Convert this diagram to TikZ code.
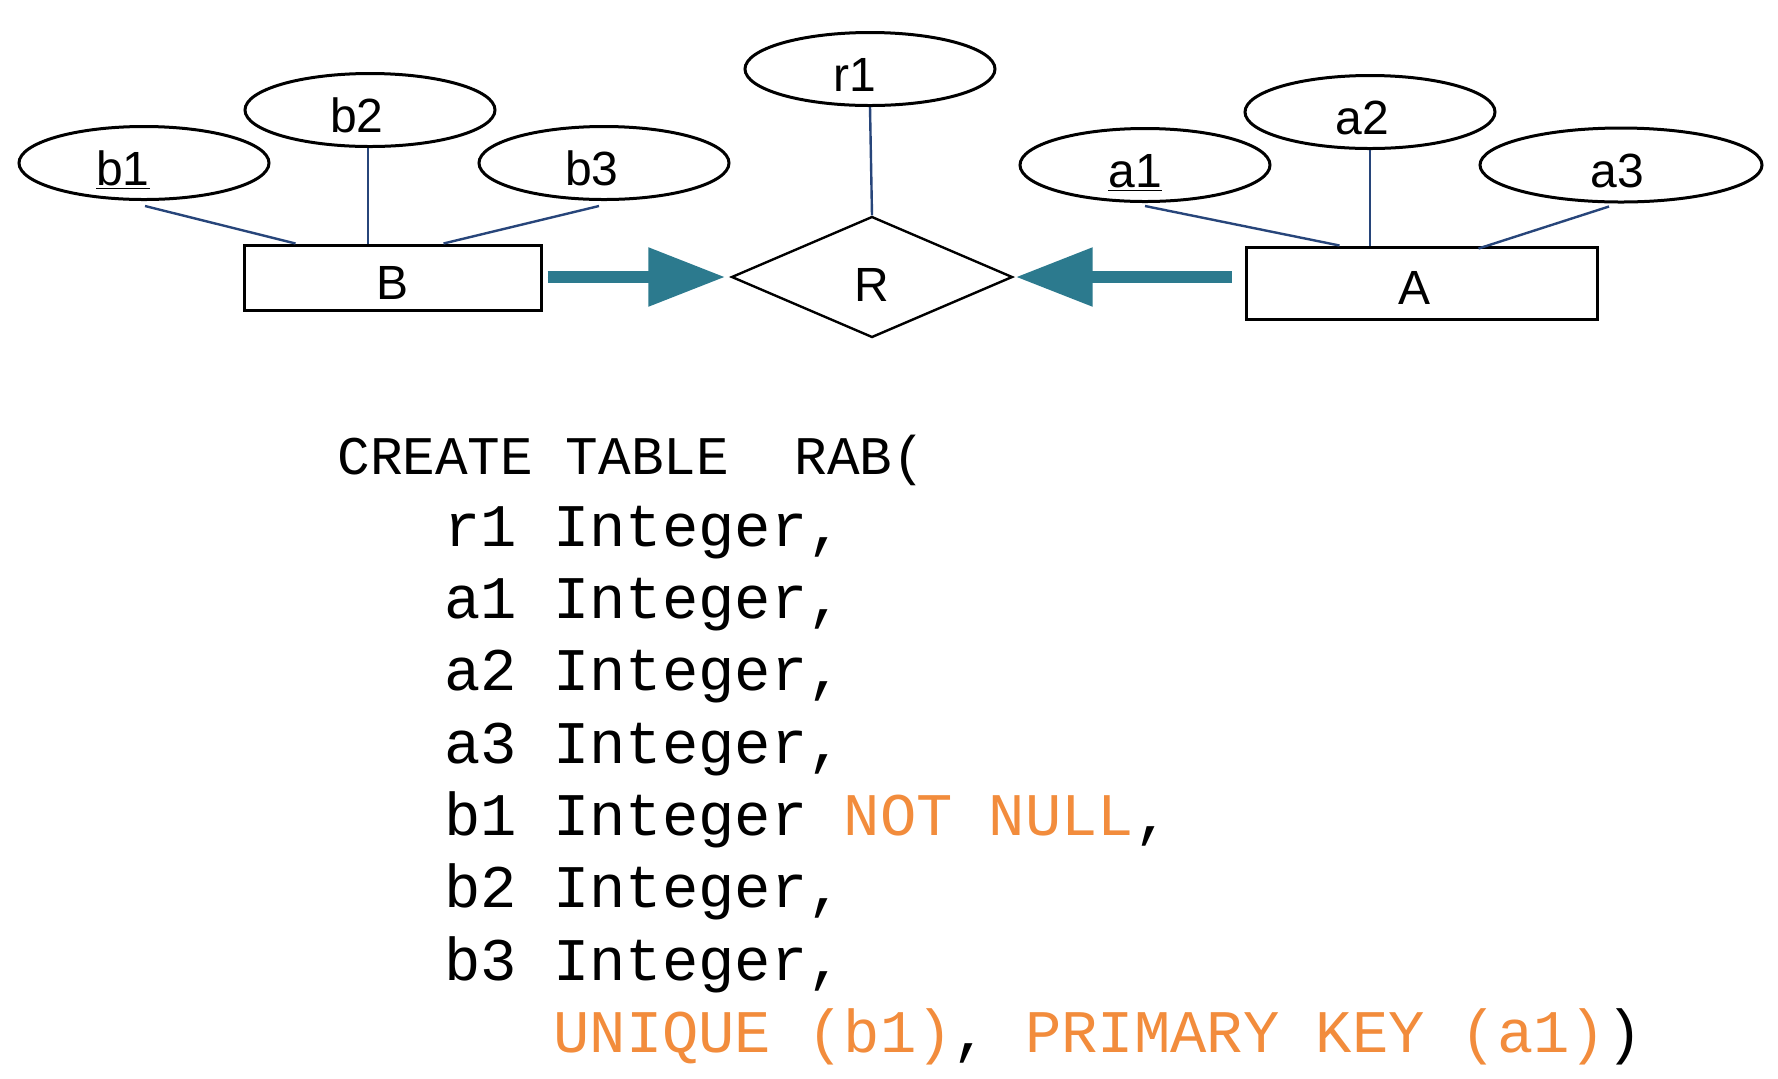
\documentclass[tikz,border=0pt]{standalone}
\usepackage{fontspec}
\setmainfont{Liberation Sans}
\setmonofont{Liberation Mono}
\usetikzlibrary{shapes.geometric,arrows.meta}
\definecolor{arrteal}{HTML}{2C7A8E}
\definecolor{lnblue}{HTML}{27457A}
\definecolor{sqlorange}{HTML}{F28C3C}
\begin{document}
\begin{tikzpicture}[x=0.5pt,y=-0.5pt,
  attr/.style={ellipse,draw,line width=1.5pt,minimum width=125pt,minimum height=36.5pt,inner sep=0pt,
    font=\fontsize{24}{28}\selectfont,text height=22pt,text depth=0pt},
  entity/.style={rectangle,draw,line width=1.5pt,inner sep=0pt,
    font=\fontsize{24}{28}\selectfont,text height=21.5pt,text depth=0pt},
  rel/.style={diamond,draw,line width=1.2pt,minimum width=140.5pt,minimum height=60.5pt,inner sep=0pt,
    font=\fontsize{24}{28}\selectfont,text height=24pt,text depth=0pt},
  link/.style={draw=lnblue,line width=1.2pt},
  bigarrow/.style={draw=arrteal,line width=6pt,-{Triangle[length=38.5pt,width=28pt]},fill=arrteal},
  sqlhead/.style={anchor=base west,inner sep=0pt,font=\ttfamily\fontsize{27.2}{32}\selectfont},
  sqlbody/.style={anchor=base west,inner sep=0pt,font=\ttfamily\fontsize{30.25}{36}\selectfont}
]
\fill[white] (0,0) rectangle (1778,1078);
\useasboundingbox (0,0) rectangle (1778,1078);

% attributes
\node[attr] (b1) at (144,163) {\underline{b1}\hspace*{21pt}};
\node[attr] (b2) at (370,110) {b2\hspace*{13pt}};
\node[attr] (b3) at (604,163) {b3\hspace*{12pt}};
\node[attr] (r1) at (870,69) {r1\hspace*{15pt}};
\node[attr] (a1) at (1145,165) {\underline{a1}\hspace*{10pt}};
\node[attr] (a2) at (1370,112) {a2\hspace*{8pt}};
\node[attr,minimum width=141pt,minimum height=37pt] (a3) at (1621,165) {a3\hspace*{4pt}};

% entities and relationship
\node[entity,minimum width=148.5pt,minimum height=32.5pt] (B) at (392.5,277.5) {B};
\node[entity,minimum width=175.5pt,minimum height=36pt] (A) at (1421.5,283) {A\hspace*{7pt}};
\node[rel] (R) at (872,277) {R};

% attribute links
\draw[link] ([xshift=0.5pt,yshift=-2.5pt]b1.south) -- ([xshift=26.5pt]B.north west);
\draw[link] ([xshift=-1pt]b2.south) -- ([xshift=-1pt]b2.south |- B.north);
\draw[link] ([xshift=-2.5pt,yshift=-2.5pt]b3.south) -- ([xshift=-49.5pt]B.north east);
\draw[link] (r1.south) -- (R.north);
\draw[link] ([yshift=-1.5pt]a1.south) -- ([xshift=47.5pt]A.north west);
\draw[link] (a2.south) -- (a2.south |- A.north);
\draw[link] ([xshift=-6pt,yshift=-1.5pt]a3.south) -- ([xshift=117pt,yshift=-1.5pt]A.north west);

% arrows
\draw[bigarrow] ([xshift=2.5pt]B.east |- R.west) -- ([xshift=-2.5pt]R.west);
\draw[bigarrow] ([xshift=-6.5pt]A.west |- R.east) -- ([xshift=1pt]R.east);

% SQL
\node[sqlhead] (l0) at (337,474) {CREATE TABLE~~RAB(};
\node[sqlbody] (l1) at (444,546.3) {r1 Integer,};
\node[sqlbody] (l2) at (444,618.6) {a1 Integer,};
\node[sqlbody] (l3) at (444,690.9) {a2 Integer,};
\node[sqlbody] (l4) at (444,763.2) {a3 Integer,};
\node[sqlbody] (l5) at (444,835.5) {b1 Integer {\color{sqlorange}NOT NULL},};
\node[sqlbody] (l6) at (444,907.8) {b2 Integer,};
\node[sqlbody] (l7) at (444,980.1) {b3 Integer,};
\node[sqlbody] (l8) at (553,1052.4) {{\color{sqlorange}UNIQUE (b1)}, {\color{sqlorange}PRIMARY KEY (a1)})};
\end{tikzpicture}
\end{document}
